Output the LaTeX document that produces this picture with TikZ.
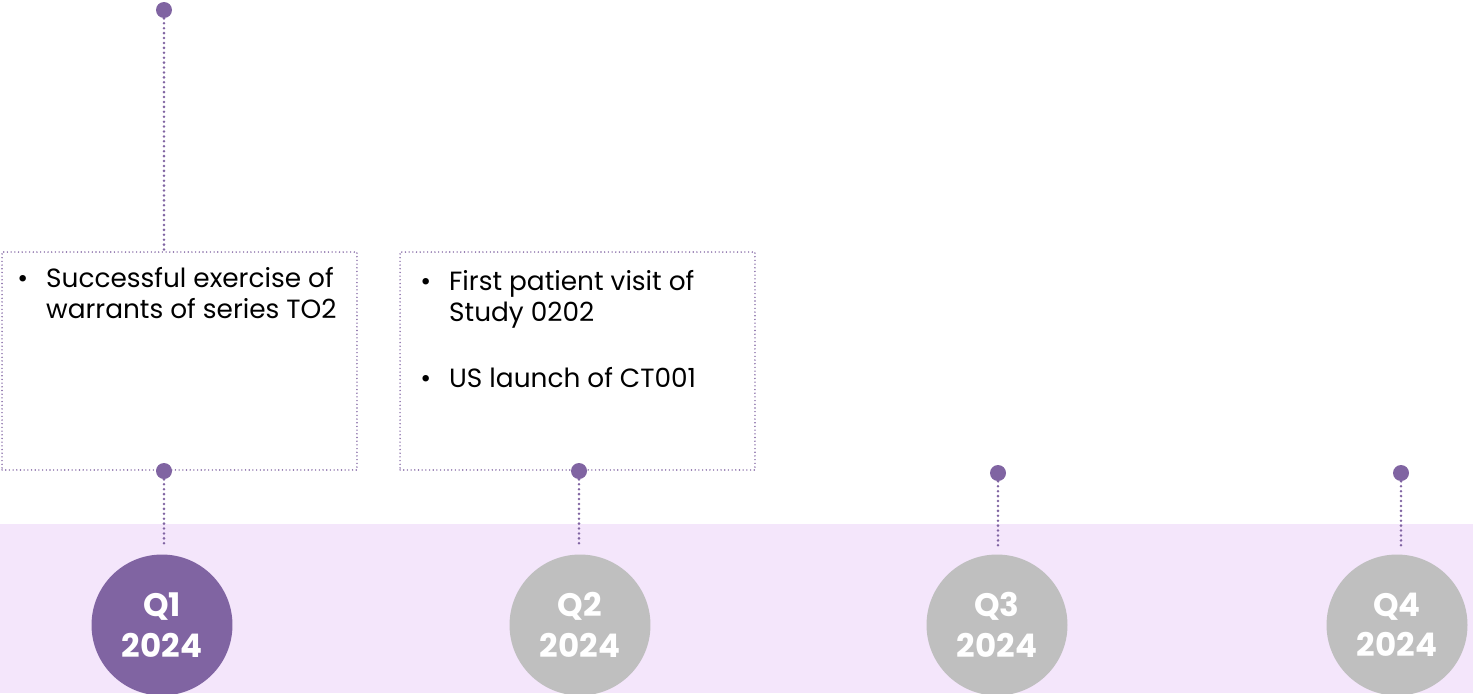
\documentclass[tikz,border=0pt]{standalone}
\usepackage{fontspec}
\setmainfont{Poppins}
\usetikzlibrary{positioning}
\usetikzlibrary{calc}

\begin{document}
\begin{tikzpicture}[x=0.02cm,y=-0.02cm,
    pin/.style={circle,fill=tlpurple,inner sep=0pt,minimum size=0.32cm},
    link/.style={draw=tlpurple,line width=1.6pt,line cap=round,dash pattern=on 0pt off 2.8pt},
    note/.style={draw=tlpurple,line width=0.9pt,line cap=round,dash pattern=on 0pt off 2.1pt,minimum width=7.1cm,minimum height=4.36cm},
    items/.style={anchor=north west,align=left,font=\fontsize{15}{17.8}\selectfont,inner sep=0pt},
    quarter/.style={circle,minimum size=2.82cm,inner sep=0pt,text=white,align=center,font=\fontsize{18.5}{23}\selectfont\bfseries}
  ]
\definecolor{tlpurple}{RGB}{128,100,162}
\definecolor{tlgrey}{RGB}{191,191,191}
\definecolor{tlband}{RGB}{244,230,251}

\useasboundingbox (0,0) rectangle (1473,693);
\fill[tlband] (0,524) rectangle (1473,693);

% quarters
\node[quarter,fill=tlpurple] (q1) at (162,625) {Q1\\2024};
\node[quarter,fill=tlgrey] (q2) at (580,625) {Q2\\2024};
\node[quarter,fill=tlgrey] (q3) at (997,625) {Q3\\2024};
\node[quarter,fill=tlgrey] (q4) at (1397,625) {Q4\\2024};

% milestone boxes
\node[note] (b1) at (179.5,361) {};
\node[note] (b2) at (577.5,361) {};
\node[items] (t1) at (17,265) {\textbullet\hspace{0.36cm}\begin{tabular}[t]{@{}l@{}}Successful exercise of\\warrants of series TO2\end{tabular}};
\node[items] (t2) at (420,268) {\textbullet\hspace{0.36cm}\begin{tabular}[t]{@{}l@{}}First patient visit of\\Study 0202\end{tabular}\\[0.7cm]
  \textbullet\hspace{0.36cm}US launch of CT001};

% pins
\node[pin] (d0) at (164,10) {};
\node[pin] (d1) at (164,471) {};
\node[pin] (d2) at (579,471) {};
\node[pin] (d3) at (998,473) {};
\node[pin] (d4) at (1401,473) {};

\draw[link] (d0) -- (d0 |- b1.north);
\draw[link,shorten >=0.16cm] (d1) -- (d1 |- q1.north);
\draw[link,shorten >=0.16cm] (d2) -- (d2 |- q2.north);
\draw[link,shorten >=0.16cm] (d3) -- (d3 |- q3.north);
\draw[link,shorten >=0.16cm] (d4) -- (d4 |- q4.north);

\end{tikzpicture}
\end{document}
